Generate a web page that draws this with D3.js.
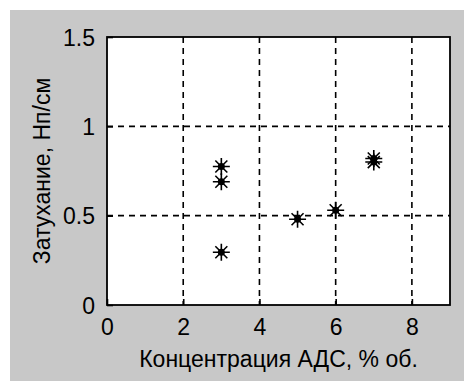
<!DOCTYPE html>
<html>
<head>
<meta charset="utf-8">
<script src="https://cdn.jsdelivr.net/npm/d3@7"></script>
<style>
  body { margin: 0; background: #ffffff; }
  svg text { font-family: "Liberation Sans", Arial, sans-serif; fill: #000; }
</style>
</head>
<body>
<div id="chart"></div>
<script>
// concentration, % vol
var concentration = [3, 3, 3, 5, 6, 7, 7];
// attenuation, Np/cm
var attenuation = [0.775, 0.69, 0.295, 0.48, 0.53, 0.80, 0.82];
var xTicks = [0, 2, 4, 6, 8];
var yTicks = [0, 0.5, 1, 1.5];
var yTickLabels = ['0', '0.5', '1', '1.5'];
var xLabel = 'Концентрация АДС, % об.';
var yLabel = 'Затухание, Нп/см';

var W = 464, H = 381;
var margin = {top: 37, right: 14, bottom: 76, left: 107};
var width = W - margin.left - margin.right,
    height = H - margin.top - margin.bottom;

var svg = d3.select('#chart').append('svg')
    .attr('width', W)
    .attr('height', H);

// grey figure background
svg.append('rect')
    .attr('x', 10).attr('y', 10)
    .attr('width', W - 10).attr('height', H - 10)
    .attr('fill', '#c8c8c8');

var g = svg.append('g')
    .attr('transform', 'translate(' + margin.left + ',' + margin.top + ')');

var x = d3.scaleLinear().domain([0, 9]).range([0, width]),
    y = d3.scaleLinear().domain([0, 1.5]).range([height, 0]);

g.append('rect')
    .attr('width', width).attr('height', height)
    .attr('fill', '#fff');

// dashed grid
g.selectAll('.vgrid')
    .data(xTicks.filter(function(d){ return d > 0; }))
    .enter().append('line')
    .attr('class', 'vgrid')
    .attr('x1', function(d){ return x(d); })
    .attr('x2', function(d){ return x(d); })
    .attr('y1', 0).attr('y2', height)
    .attr('stroke', '#000')
    .attr('stroke-width', 1.6)
    .attr('stroke-dasharray', '6,5');

g.selectAll('.hgrid')
    .data(yTicks.filter(function(d){ return d > 0 && d < 1.5; }))
    .enter().append('line')
    .attr('class', 'hgrid')
    .attr('y1', function(d){ return y(d); })
    .attr('y2', function(d){ return y(d); })
    .attr('x1', 0).attr('x2', width)
    .attr('stroke', '#000')
    .attr('stroke-width', 1.6)
    .attr('stroke-dasharray', '6,5');

// axes with inner ticks
var xAxis = d3.axisBottom(x).tickValues(xTicks).tickSizeInner(-6).tickSizeOuter(0).tickPadding(14);
var yAxis = d3.axisLeft(y).tickValues(yTicks).tickSizeInner(-6).tickSizeOuter(0).tickPadding(12)
    .tickFormat(function(d, i){ return yTickLabels[i]; });

var gx = g.append('g')
    .attr('transform', 'translate(0,' + height + ')')
    .call(xAxis);
var gy = g.append('g').call(yAxis);

[gx, gy].forEach(function(a){
  a.select('.domain').remove();
  a.selectAll('.tick line').attr('stroke', '#000').attr('stroke-width', 1.6);
  a.selectAll('.tick text').style('font-size', '23px');
});
gx.selectAll('.tick text').attr('dy', '0.71em');
gy.selectAll('.tick text').attr('dy', '0.36em');

// box
g.append('rect')
    .attr('width', width).attr('height', height)
    .attr('fill', 'none')
    .attr('stroke', '#000')
    .attr('stroke-width', 1.8);

// star markers
var pts = concentration.map(function(c, i){ return {x: c, y: attenuation[i]}; });
var a = 8.5, b = 6;
var star = 'M0,' + (-a) + 'L0,' + a + 'M' + (-a) + ',0L' + a + ',0' +
    'M' + (-b) + ',' + (-b) + 'L' + b + ',' + b + 'M' + (-b) + ',' + b + 'L' + b + ',' + (-b);

var m = g.selectAll('.pt')
    .data(pts)
    .enter().append('g')
    .attr('class', 'pt')
    .attr('transform', function(d){ return 'translate(' + x(d.x) + ',' + y(d.y) + ')'; });
m.append('path')
    .attr('d', star)
    .attr('stroke', '#000')
    .attr('stroke-width', 1.6)
    .attr('fill', 'none');
m.append('circle')
    .attr('r', 3.5)
    .attr('fill', '#000');

// axis labels
svg.append('text')
    .attr('x', margin.left + width / 2)
    .attr('y', 367)
    .attr('text-anchor', 'middle')
    .style('font-size', '23px')
    .text(xLabel);

svg.append('text')
    .attr('transform', 'translate(50,' + (margin.top + height / 2) + ') rotate(-90)')
    .attr('text-anchor', 'middle')
    .style('font-size', '23px')
    .text(yLabel);
</script>
</body>
</html>
